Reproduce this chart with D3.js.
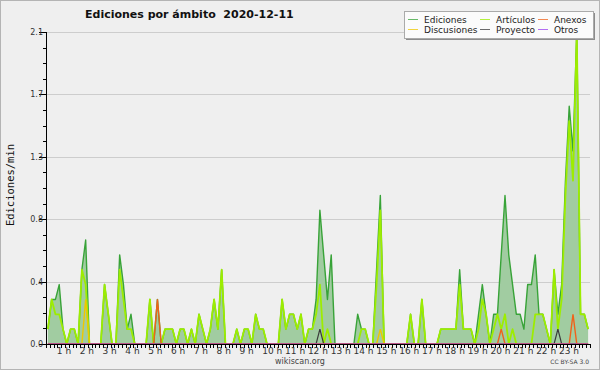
<!DOCTYPE html>
<html><head><meta charset="utf-8">
<script src="https://cdn.jsdelivr.net/npm/d3@7"></script>
<style>html,body{margin:0;padding:0;background:#fff}svg{display:block}</style>
</head><body>
<svg id="c" width="600" height="370"></svg>
<script>
// ---- data (edits per minute, 10-minute bins, 00:00 .. 23:50) ----
const ediciones = [
 .1,.3,.3,.4,.1,0,.1,.1,0,.5, .7,0,0,0,0,.4,.2,0,0,.6, .4,.1,.2,0,0,0,0,.3,0,.3,
 0,.1,.1,.1,0,.1,.1,0,.1,0, .2,.1,0,.1,.3,.1,.5,0,0,0, .1,0,.1,.1,0,.2,.1,.1,0,0,
 0,0,.3,.1,.2,.2,.1,.2,0,.1, .1,.3,.9,.6,.3,.6,0,0,0,0, 0,0,.2,.1,.1,0,0,.5,1.0,0,
 0,0,0,0,0,0,.2,0,0,.3, 0,0,0,0,.1,.1,.1,.1,.1,.5, .1,.1,.1,0,.2,.4,.2,0,.2,.2,
 .6,1.0,.6,.4,.2,.2,.1,.4,.4,.6, .2,.2,.1,0,.5,.2,.4,1.1,1.6,1.3, 2.1,.2,.2,.1];
const articulos = [
 .1,.3,.2,.2,.1,0,.1,.1,0,.5, .4,0,0,0,0,.4,.2,0,0,.5, .3,.1,.1,0,0,0,0,.3,0,0,
 0,.1,.1,.1,0,.1,.1,0,.1,0, .2,.1,0,.1,.3,.1,.5,0,0,0, .1,0,.1,.1,0,.2,.1,.1,0,0,
 0,0,.3,.1,.2,.2,.1,.2,0,.1, .1,.2,.4,0,.1,0,0,0,0,0, 0,0,0,.1,.1,0,0,.4,.9,0,
 0,0,0,0,0,0,.2,0,0,.3, 0,0,0,0,.1,.1,.1,.1,.1,.4, .1,.1,.1,0,.1,.3,.2,0,.1,.2,
 .1,.2,0,.1,0,0,0,0,0,.2, .2,.2,.1,0,.5,.1,.3,1.0,1.5,1.1, 2.1,.2,.2,.1];
const anexos = new Array(144).fill(0);      // filled below from readings
const anexosPeaks = [[29, .3], [120, .1], [139, .2]];
const discusiones = new Array(144).fill(0);
const discusionesPeaks = [[10, .3], [88, .1]];
const proyecto = new Array(144).fill(0);
const proyectoPeaks = [[72, .1], [135, .1]];
const otros = new Array(144).fill(0);
anexosPeaks.forEach(([i,v]) => anexos[i] = v);
discusionesPeaks.forEach(([i,v]) => discusiones[i] = v);
proyectoPeaks.forEach(([i,v]) => proyecto[i] = v);

const hourLabels = ["1 h","2 h","3 h","4 h","5 h","6 h","7 h","8 h","9 h","10 h","11 h","12 h",
  "13 h","14 h","15 h","16 h","17 h","18 h","19 h","20 h","21 h","22 h","23 h"];
const yTicks = [0, 0.42, 0.84, 1.26, 1.68, 2.1];
const legendNames = ["Ediciones","Artículos","Anexos","Discusiones","Proyecto","Otros"];

// ---- drawing ----
const svg = d3.select("#c");
const W = 600, H = 370;
const L = 46, R = 590, T = 32, B = 344;

svg.append("rect").attr("x",0.5).attr("y",0.5).attr("width",W-1).attr("height",H-1)
  .attr("fill","#efefef").attr("stroke","#b4b4b4");

const x = d3.scaleLinear().domain([-0.5, 143.5]).range([L, R]);
const xi = d3.scaleLinear().domain([0, 143]).range([L, R]);
const y = d3.scaleLinear().domain([0, 2.1]).range([B, T]);

// grid
svg.append("g").selectAll("line").data(yTicks.slice(1)).join("line")
  .attr("x1", L).attr("x2", R).attr("y1", d => Math.round(y(d))+0.5).attr("y2", d => Math.round(y(d))+0.5)
  .attr("stroke","#cdcdcd").attr("stroke-width",1);

// series
const col = {ed:"#38a338", fill:"#a1cca1", art:"#9ded00", anx:"#f0621a", dis:"#eec800", pro:"#3a3a3a", otr:"#9a3ff0"};
const line = d3.line().x((d,i) => x(i)).y(d => y(d));
const area = d3.area().x((d,i) => x(i)).y0(y(0)).y1(d => y(d));
svg.append("path").attr("d", area(ediciones)).attr("fill", col.fill);
svg.append("path").attr("d", line(ediciones)).attr("fill","none").attr("stroke", col.ed).attr("stroke-width",1.4).attr("stroke-linejoin","round");
svg.append("path").attr("d", line(articulos)).attr("fill","none").attr("stroke", col.art).attr("stroke-width",1.8).attr("stroke-linejoin","round");
svg.append("path").attr("d", line(discusiones)).attr("fill","none").attr("stroke", col.dis).attr("stroke-width",1.4);
svg.append("path").attr("d", line(proyecto)).attr("fill","none").attr("stroke", col.pro).attr("stroke-width",1.2);
svg.append("path").attr("d", line(anexos)).attr("fill","none").attr("stroke", col.anx).attr("stroke-width",1.4);
svg.append("path").attr("d", line(otros)).attr("fill","none").attr("stroke", col.otr).attr("stroke-width",1.2);

// axes
const ax = svg.append("g").attr("stroke","#000").attr("stroke-width",1);
ax.append("line").attr("x1",L+0.5).attr("x2",L+0.5).attr("y1",T).attr("y2",B+0.5);
ax.append("line").attr("x1",L).attr("x2",R+0.5).attr("y1",B+0.5).attr("y2",B+0.5);
// y ticks
const minor = d3.range(0, 21).map(k => k * 2.1 / 20);
ax.selectAll(".ym").data(minor).join("line")
  .attr("x1", L-3).attr("x2", L).attr("y1", d => Math.round(y(d))+0.5).attr("y2", d => Math.round(y(d))+0.5);
ax.selectAll(".yM").data(yTicks).join("line")
  .attr("x1", L-7).attr("x2", L).attr("y1", d => Math.round(y(d))+0.5).attr("y2", d => Math.round(y(d))+0.5);
// x ticks
ax.selectAll(".xt").data(d3.range(0, 144)).join("line")
  .attr("x1", d => Math.round(xi(d))+0.5).attr("x2", d => Math.round(xi(d))+0.5)
  .attr("y1", B).attr("y2", B+4);

svg.append("g").selectAll("text").data(yTicks).join("text")
  .attr("x", L-3).attr("y", d => y(d) + 3)
  .attr("text-anchor","end").attr("font-family","DejaVu Sans").attr("font-size",8)
  .attr("fill","#333").text(d => d3.format(".1f")(d));

svg.append("g").selectAll("text").data(hourLabels).join("text")
  .attr("x", (d,i) => xi((i+1)*6) - 12).attr("y", 353.5)
  .attr("font-family","DejaVu Sans").attr("font-size",9).attr("fill","#333")
  .attr("xml:space","preserve").text(d => d);

// y title
svg.append("text").attr("transform","translate(14,185) rotate(-90)")
  .attr("text-anchor","middle").attr("font-family","DejaVu Sans Mono").attr("font-size",10.5)
  .attr("fill","#111").text("Ediciones/min");

// title
svg.append("text").attr("x",85).attr("y",18).attr("font-family","DejaVu Sans").attr("font-weight","bold")
  .attr("font-size",11).attr("fill","#111").attr("xml:space","preserve").style("white-space","pre")
  .text("Ediciones por ámbito  2020-12-11");

// legend
const lg = svg.append("g");
lg.append("rect").attr("x",406).attr("y",13).attr("width",189).attr("height",27).attr("fill","#8c8c8c");
lg.append("rect").attr("x",404.5).attr("y",11.5).attr("width",189).attr("height",27).attr("fill","#fbfbfb").attr("stroke","#aaa");
const legCols = [col.ed, col.art, col.anx, col.dis, col.pro, col.otr];
const colX = [408, 480, 538], rowY = [19, 29];
legendNames.forEach((n, k) => {
  const c = k % 3, r = Math.floor(k / 3);
  lg.append("line").attr("x1", colX[c]).attr("x2", colX[c]+10).attr("y1", rowY[r]+0.5).attr("y2", rowY[r]+0.5)
    .attr("stroke", legCols[k]).attr("stroke-width",1).attr("opacity",0.75);
  lg.append("text").attr("x", colX[c]+16).attr("y", rowY[r]+3.5).attr("font-family","DejaVu Sans")
    .attr("font-size",9).attr("fill","#222").text(n);
});

// footer
svg.append("text").attr("x",300).attr("y",363.5).attr("text-anchor","middle").attr("font-family","DejaVu Sans")
  .attr("font-size",8).attr("fill","#444").text("wikiscan.org");
svg.append("text").attr("x",589).attr("y",364).attr("text-anchor","end").attr("font-family","DejaVu Sans")
  .attr("font-size",6).attr("fill","#444").text("CC BY-SA 3.0");
</script>
</body></html>
